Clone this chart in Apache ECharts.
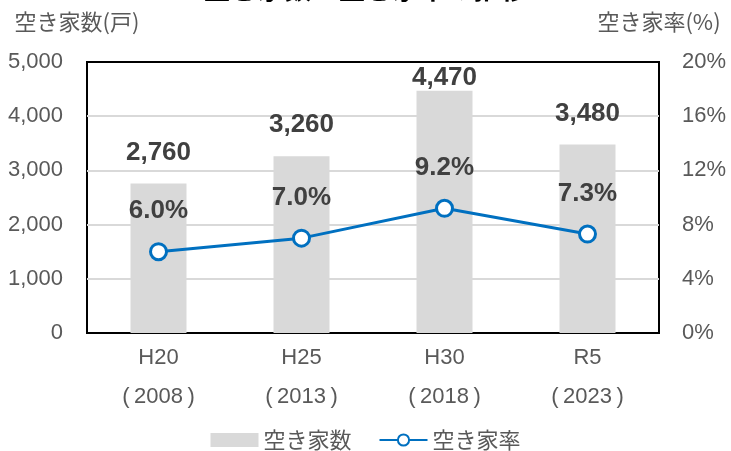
<!DOCTYPE html>
<html>
<head>
<meta charset="utf-8">
<script src="https://cdn.jsdelivr.net/npm/echarts@6/dist/echarts.min.js"></script>
<style>
  html, body { margin: 0; padding: 0; background: #fff; }
  #chart { width: 731px; height: 451px; }
</style>
</head>
<body>
<div id="chart"></div>
<script>
// 空き家数・空き家率の推移
const categories = ['H20\n(\u20092008\u2009)', 'H25\n(\u20092013\u2009)', 'H30\n(\u20092018\u2009)', 'R5\n(\u20092023\u2009)'];
const vacantHouses = [2760, 3260, 4470, 3480];   // 空き家数(戸)
const vacancyRate = [6.0, 7.0, 9.2, 7.3];         // 空き家率(%)
const leftTicks = { min: 0, max: 5000, interval: 1000 };
const rightTicks = { min: 0, max: 20, interval: 4 };

const FONT = "'Liberation Sans', 'Noto Sans CJK JP', sans-serif";
const JP_FONT = "'Noto Sans CJK JP', sans-serif";
const TICK_COLOR = '#595959';
const LABEL_COLOR = '#404040';

// the tallest bar keeps its value label tucked just above the bar
const barData = vacantHouses.map(v =>
  v === Math.max(...vacantHouses) ? { value: v, label: { distance: 0 } } : v
);

const chart = echarts.init(document.getElementById('chart'));
chart.setOption({
  animation: false,
  backgroundColor: '#fff',
  textStyle: { fontFamily: FONT },
  title: {
    text: '空き家数と空き家率の推移',
    left: 'center',
    top: -25,
    padding: 0,
    textStyle: { fontSize: 27, fontWeight: 'bold', color: '#000', fontFamily: JP_FONT }
  },
  grid: {
    left: 87, right: 72, top: 62, bottom: 118,
    show: true, borderColor: '#000', borderWidth: 2, backgroundColor: 'transparent'
  },
  legend: {
    top: 424,
    left: 'center',
    itemWidth: 48,
    itemHeight: 14,
    itemGap: 27,
    textStyle: { fontSize: 22, color: TICK_COLOR, fontFamily: JP_FONT },
    data: [
      { name: '空き家数', icon: 'rect' },
      { name: '空き家率' }
    ]
  },
  xAxis: {
    type: 'category',
    data: categories,
    axisLine: { show: false },
    axisTick: { show: false },
    axisLabel: {
      fontSize: 22, color: TICK_COLOR, lineHeight: 39, margin: 5
    }
  },
  yAxis: [
    {
      type: 'value',
      min: leftTicks.min, max: leftTicks.max, interval: leftTicks.interval,
      name: '空き家数(戸)',
      nameGap: 29,
      nameTextStyle: { fontSize: 22, color: TICK_COLOR, padding: [0, 20, 0, 0], fontFamily: JP_FONT },
      axisLine: { show: false },
      axisTick: { show: false },
      axisLabel: {
        fontSize: 22, color: TICK_COLOR, margin: 24,
        formatter: v => v.toLocaleString('en-US')
      },
      splitLine: { showMinLine: false, showMaxLine: false, lineStyle: { color: '#d9d9d9', width: 2 } }
    },
    {
      type: 'value',
      min: rightTicks.min, max: rightTicks.max, interval: rightTicks.interval,
      name: '空き家率(%)',
      nameGap: 29,
      nameTextStyle: { fontSize: 22, color: TICK_COLOR, fontFamily: JP_FONT },
      axisLine: { show: false },
      axisTick: { show: false },
      axisLabel: { fontSize: 22, color: TICK_COLOR, margin: 23, formatter: '{value}%' },
      splitLine: { show: false }
    }
  ],
  series: [
    {
      name: '空き家数',
      type: 'bar',
      yAxisIndex: 0,
      data: barData,
      barWidth: 56,
      itemStyle: { color: '#d9d9d9' },
      label: {
        show: true, position: 'top', distance: 18,
        fontSize: 26, fontWeight: 'bold', color: LABEL_COLOR,
        formatter: p => p.value.toLocaleString('en-US')
      },
      z: 1
    },
    {
      name: '空き家率',
      type: 'line',
      yAxisIndex: 1,
      data: vacancyRate,
      symbol: 'circle',
      symbolSize: 16,
      lineStyle: { color: '#0070c0', width: 3 },
      itemStyle: { color: '#fff', borderColor: '#0070c0', borderWidth: 3 },
      label: {
        show: true, position: 'top', distance: 18,
        fontSize: 26, fontWeight: 'bold', color: LABEL_COLOR,
        formatter: p => p.value.toFixed(1) + '%'
      },
      z: 3
    }
  ]
});
</script>
</body>
</html>
